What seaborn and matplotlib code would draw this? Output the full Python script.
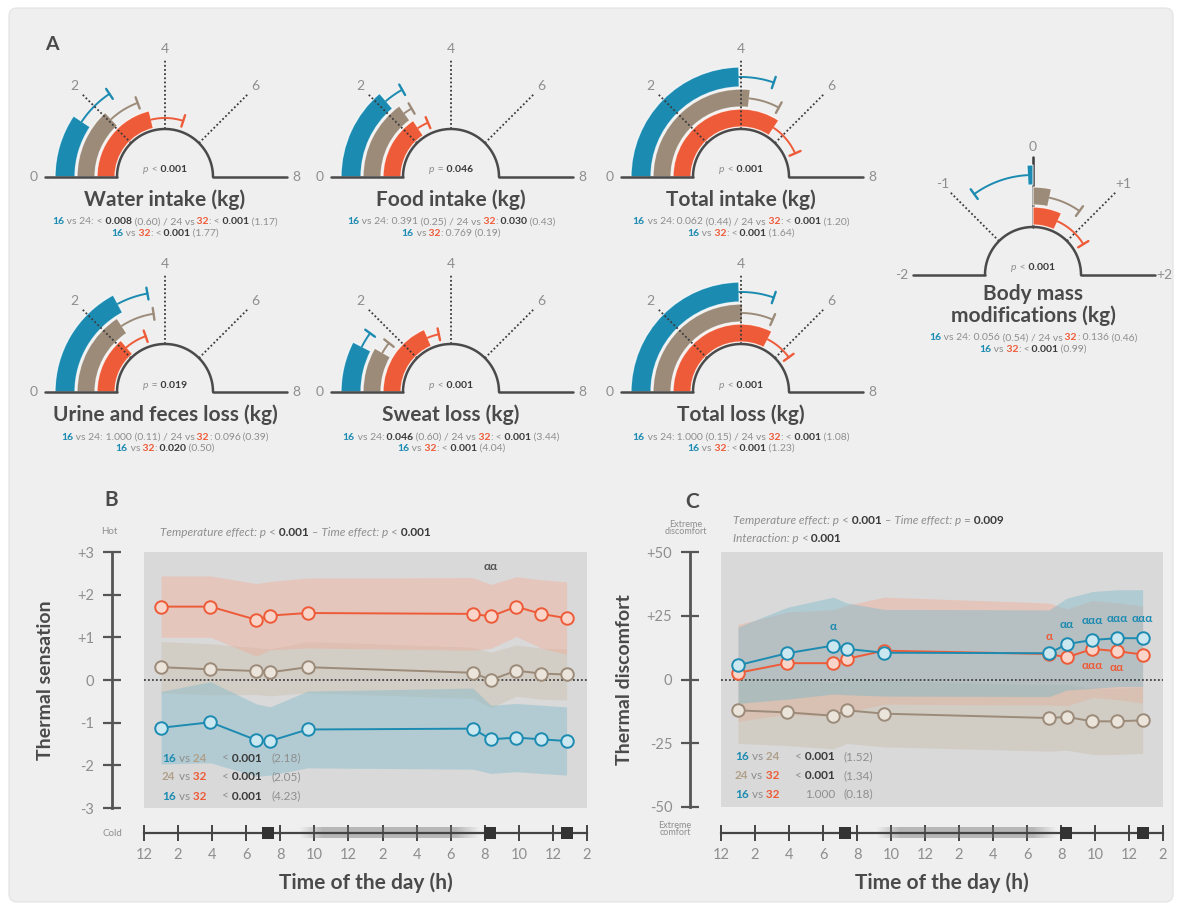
import numpy as np
import pandas as pd
import matplotlib
matplotlib.use("Agg")
import matplotlib.pyplot as plt
import seaborn as sns
from matplotlib.patches import Wedge, FancyBboxPatch
from matplotlib.offsetbox import TextArea, HPacker, AnnotationBbox

# ------------------------------------------------------------------ data
groups = ["16", "24", "32"]

gauge_titles = ["Water intake (kg)", "Food intake (kg)", "Total intake (kg)",
                "Urine and feces loss (kg)", "Sweat loss (kg)", "Total loss (kg)",
                "Body mass\nmodifications (kg)"]
gauge_mean_16 = [1.5, 2.2, 3.95, 2.75, 1.2, 3.95, -0.07]
gauge_sd_16 = [1.0, 0.5, 0.9, 0.8, 0.4, 0.9, 0.73]
gauge_mean_24 = [2.1, 2.4, 4.27, 2.53, 1.33, 4.05, 0.27]
gauge_sd_24 = [1.0, 0.27, 1.0, 1.1, 0.37, 1.0, 0.53]
gauge_mean_32 = [3.4, 2.5, 5.5, 2.2, 2.97, 5.2, 0.55]
gauge_sd_32 = [1.4, 0.48, 1.45, 0.95, 0.5, 1.2, 0.75]
gauge_ranges = [(0, 8)] * 6 + [(-2, 2)]
gauge_ticks = [[0, 2, 4, 6, 8]] * 6 + [[-2, -1, 0, 1, 2]]
gauge_tick_labels = [["0", "2", "4", "6", "8"]] * 6 + [["-2", "-1", "0", "+1", "+2"]]
gauge_p_global = ["< 0.001", "= 0.046", "< 0.001", "= 0.019", "< 0.001", "< 0.001", "< 0.001"]
p_16_24 = ["< 0.008", "0.391", "0.062", "1.000", "0.046", "1.000", "0.056"]
es_16_24 = ["0.60", "0.25", "0.44", "0.11", "0.60", "0.15", "0.54"]
p_24_32 = ["< 0.001", "0.030", "< 0.001", "0.096", "< 0.001", "< 0.001", "0.136"]
es_24_32 = ["1.17", "0.43", "1.20", "0.39", "3.44", "1.08", "0.46"]
p_16_32 = ["< 0.001", "0.769", "< 0.001", "0.020", "< 0.001", "< 0.001", "< 0.001"]
es_16_32 = ["1.77", "0.19", "1.64", "0.50", "4.04", "1.23", "0.99"]

hours = [1.0, 3.9, 6.6, 7.4, 9.6, 19.3, 20.35, 21.85, 23.3, 24.8]
sens_16 = [-1.12, -0.99, -1.41, -1.43, -1.16, -1.14, -1.39, -1.35, -1.39, -1.43]
sens_24 = [0.30, 0.25, 0.21, 0.18, 0.30, 0.17, 0.0, 0.22, 0.15, 0.13]
sens_32 = [1.72, 1.72, 1.41, 1.51, 1.57, 1.55, 1.49, 1.72, 1.55, 1.45]
sens_sd_16 = [0.85, 0.95, 0.85, 0.8, 0.9, 0.95, 0.8, 0.8, 0.8, 0.8]
sens_sd_24 = [0.6, 0.6, 0.55, 0.55, 0.6, 0.6, 0.65, 0.6, 0.6, 0.6]
sens_sd_32 = [0.72, 0.72, 0.85, 0.8, 0.82, 0.85, 0.75, 0.7, 0.8, 0.85]

disc_16 = [5.6, 10.3, 13.3, 12.0, 10.5, 10.3, 13.9, 15.5, 16.2, 16.2]
disc_24 = [-12.1, -12.9, -14.2, -12.1, -13.4, -15.1, -14.7, -16.4, -16.4, -16.0]
disc_32 = [2.6, 6.4, 6.4, 8.1, 11.3, 10.0, 8.7, 12.0, 11.1, 9.8]
disc_sd_16 = [15, 18, 19, 18, 17, 17, 18, 19, 19, 19]
disc_sd_24 = [13, 13, 13, 13, 13, 13, 13, 13, 13, 13]
disc_sd_32 = [19, 20, 21, 21, 21, 20, 19, 19, 19, 19]

time_ticks = list(range(0, 27, 2))
time_tick_labels = ["12", "2", "4", "6", "8", "10", "12", "2", "4", "6", "8", "10", "12", "2"]
event_times = [7.3, 20.3, 24.8]
light_period = [9.8, 19.0]

sens_ticks = [-3, -2, -1, 0, 1, 2, 3]
sens_tick_labels = ["-3", "-2", "-1", "0", "+1", "+2", "+3"]
disc_ticks = [-50, -25, 0, 25, 50]
disc_tick_labels = ["-50", "-25", "0", "+25", "+50"]

sens_stats_pairs = [("16", "24"), ("24", "32"), ("16", "32")]
sens_stats_p = ["< 0.001", "< 0.001", "< 0.001"]
sens_stats_es = ["2.18", "2.05", "4.23"]
disc_stats_p = ["< 0.001", "< 0.001", "1.000"]
disc_stats_es = ["1.52", "1.34", "0.18"]

sig_B_32_hours = [20.35]
sig_B_32_text = ["αα"]
sig_C_16_hours = [6.6, 20.35, 21.85, 23.3, 24.8]
sig_C_16_text = ["α", "αα", "ααα", "ααα", "ααα"]
sig_C_32_above_hours = [19.3]
sig_C_32_above_text = ["α"]
sig_C_32_below_hours = [21.85, 23.3]
sig_C_32_below_text = ["ααα", "αα"]

# ------------------------------------------------------------------ style
sns.set_theme(style="white")
plt.rcParams["font.family"] = ["Lato", "DejaVu Sans"]
plt.rcParams["axes.unicode_minus"] = False

BLUE, TAN, ORANGE = "#1c8bb1", "#9c8b79", "#ee5b38"
DARK, GREY, AXC, TITLEC = "#3a3a3a", "#8e8e8e", "#4f4f4f", "#4a4a4a"
COLORS = {"16": BLUE, "24": TAN, "32": ORANGE}
FACES = {"16": "#cbe8f0", "24": "#ebe4da", "32": "#f9d5c9"}
BANDS = {"16": "#78b8ca", "24": "#c8bba8", "32": "#f5ab95"}
LABELC = {"16": BLUE, "24": "#b0a08a", "32": ORANGE}

W, H = 1182, 910
fig = plt.figure(figsize=(W / 100, H / 100), dpi=100, facecolor="white")
fig.add_artist(FancyBboxPatch((0.09, 0.08), (W - 18) / 100, (H - 16) / 100,
                              boxstyle="round,pad=0,rounding_size=0.08",
                              transform=fig.dpi_scale_trans, facecolor="#efefef",
                              edgecolor="#e2e2e2", lw=0.8, zorder=-10))


def px_rect(l, t, r, b):
    return [l / W, 1 - b / H, (r - l) / W, (b - t) / H]


ov = fig.add_axes([0, 0, 1, 1], zorder=10)
ov.set_xlim(0, W)
ov.set_ylim(H, 0)
ov.axis("off")


def P(t, c=GREY, w="normal", s="normal"):
    return (t, c, w, s)


def rich(x, y, parts, size, ha="center"):
    kids = [TextArea(t, textprops=dict(color=c, fontsize=size, fontweight=w, fontstyle=s))
            for t, c, w, s in parts]
    box = HPacker(children=kids, align="baseline", pad=0, sep=0)
    fx = {"center": 0.5, "left": 0.0, "right": 1.0}[ha]
    ab = AnnotationBbox(box, (x, y), xycoords="data", frameon=False,
                        box_alignment=(fx, 0.5), pad=0, annotation_clip=False)
    ov.add_artist(ab)


def pval_parts(p, lead=" "):
    tok = p.split()
    if len(tok) == 2:
        op, v = tok
        sig = op == "<" or float(v) < 0.05
    else:
        op, v = None, tok[0]
        sig = float(v) < 0.05
    out = []
    if op:
        out.append(P(lead + op))
        lead = " "
    out.append(P(lead + v, DARK if sig else GREY, "bold" if sig else "normal"))
    return out


# ------------------------------------------------------------------ panel A: gauges
gauge_centers = [(165, 177), (451, 177), (741, 177), (165, 392), (451, 392), (741, 392), (1033, 275)]
R0 = 48
RADII = {"32": (50, 68), "24": (70, 88), "16": (90, 110)}
means = {"16": gauge_mean_16, "24": gauge_mean_24, "32": gauge_mean_32}
sds = {"16": gauge_sd_16, "24": gauge_sd_24, "32": gauge_sd_32}

ov.text(52, 45, "A", fontsize=14, fontweight="bold", color=TITLEC, ha="center", va="center")

for i, (cx, cy) in enumerate(gauge_centers):
    ax = fig.add_axes(px_rect(cx - 165, cy - 150, cx + 165, cy + 20))
    ax.set_xlim(-165, 165)
    ax.set_ylim(-20, 150)
    ax.axis("off")
    vmin, vmax = gauge_ranges[i]

    def ang(v, vmin=vmin, vmax=vmax):
        return 180 - (v - vmin) / (vmax - vmin) * 180

    base = vmin if vmin >= 0 else 0
    for g in groups:
        m, sd = means[g][i], sds[g][i]
        r_in, r_out = RADII[g]
        a0, a1 = ang(base), ang(m)
        ax.add_patch(Wedge((0, 0), r_out, min(a0, a1), max(a0, a1), width=r_out - r_in,
                           facecolor=COLORS[g], edgecolor=(1, 1, 1, 0.75), lw=0.9, zorder=2))
        sign = 1 if m >= base else -1
        e = m + sign * sd
        th = np.radians(np.linspace(ang(m), ang(e), 50))
        rm = (r_in + r_out) / 2
        ax.plot(rm * np.cos(th), rm * np.sin(th), color=COLORS[g], lw=1.4, zorder=3)
        te = th[-1]
        ax.plot([(rm - 6) * np.cos(te), (rm + 6) * np.cos(te)],
                [(rm - 6) * np.sin(te), (rm + 6) * np.sin(te)], color=COLORS[g], lw=1.7, zorder=3)

    ticks = gauge_ticks[i]
    labels = gauge_tick_labels[i]
    for t, lab in zip(ticks[1:-1], labels[1:-1]):
        a = np.radians(ang(t))
        solid = vmin < 0 and t == 0
        ax.plot([R0 * np.cos(a), 118 * np.cos(a)], [R0 * np.sin(a), 118 * np.sin(a)],
                color="#3a3a3a", lw=1.8 if solid else 1.3,
                ls="-" if solid else (0, (1, 1.3)), zorder=4 if not solid else 1.5)
        ax.text(128 * np.cos(a), 128 * np.sin(a), lab, ha="center", va="center",
                fontsize=10, color=GREY)
    th = np.linspace(0, np.pi, 120)
    ax.plot(R0 * np.cos(th), R0 * np.sin(th), color="#4a4a4a", lw=1.8, zorder=5)
    ax.plot([-120, -R0], [0, 0], color="#4a4a4a", lw=1.8, zorder=5)
    ax.plot([R0, 122], [0, 0], color="#4a4a4a", lw=1.8, zorder=5)
    ax.text(-131, 0, labels[0], ha="center", va="center", fontsize=10, color=GREY)
    ax.text(131, 0, labels[-1], ha="center", va="center", fontsize=10, color=GREY)

    op, v = gauge_p_global[i].split()
    sig = op == "<" or float(v) < 0.05
    rich(cx, cy - 7, [P("p", GREY, "normal", "italic"), P(" " + op),
                      P(" " + v, DARK if sig else GREY, "bold")], 7.5)

    if "\n" in gauge_titles[i]:
        ov.text(cx, cy + 30, gauge_titles[i], ha="center", va="center", fontsize=15,
                fontweight="bold", color=TITLEC, linespacing=1.1)
        y1 = cy + 63
    else:
        ov.text(cx, cy + 23, gauge_titles[i], ha="center", va="center", fontsize=15,
                fontweight="bold", color=TITLEC)
        y1 = cy + 45
    line1 = ([P("16", BLUE, "bold"), P(" vs 24:")] + pval_parts(p_16_24[i]) +
             [P(f" ({es_16_24[i]}) / 24 vs"), P(" 32", ORANGE, "bold"), P(":")] +
             pval_parts(p_24_32[i]) + [P(f" ({es_24_32[i]})")])
    line2 = ([P("16", BLUE, "bold"), P(" vs"), P(" 32", ORANGE, "bold"), P(":")] +
             pval_parts(p_16_32[i]) + [P(f" ({es_16_32[i]})")])
    rich(cx, y1, line1, 7.5)
    rich(cx, y1 + 11.5, line2, 7.5)


# ------------------------------------------------------------------ panels B & C
def data_panel(left, right, top, bottom, outward_px, series, series_sd, ylim, yticks, yticklabels,
               band_alpha, band_order):
    ax = fig.add_axes(px_rect(left, top, right, bottom))
    ax.set_facecolor("#d9d9d9")
    for s in ["top", "right", "bottom"]:
        ax.spines[s].set_visible(False)
    ax.spines["left"].set_position(("outward", outward_px * 0.72))
    ax.spines["left"].set_color("#555555")
    ax.spines["left"].set_linewidth(2.0)
    for g in band_order:
        m = np.array(series[g])
        sd = np.array(series_sd[g])
        ax.fill_between(hours, m - sd, m + sd, color=BANDS[g], alpha=band_alpha, lw=0, zorder=1)
    ax.axhline(0, color="#3f3f3f", lw=1.3, ls=(0, (1, 1.2)), zorder=2)
    for g in ["24", "32", "16"]:
        df = pd.DataFrame({"hour": hours, "value": series[g]})
        sns.lineplot(data=df, x="hour", y="value", ax=ax, color=COLORS[g], lw=1.4,
                     marker="o", markersize=9, markerfacecolor=FACES[g],
                     markeredgecolor=COLORS[g], markeredgewidth=1.4, errorbar=None, zorder=6)
    ax.set_xlim(0, 26)
    ax.set_ylim(*ylim)
    ax.set_xlabel("")
    ax.set_ylabel("")
    ax.set_xticks([])
    ax.set_yticks(yticks)
    ax.set_yticklabels(yticklabels)
    ax.tick_params(axis="y", left=True, direction="inout", length=13.5, width=1.6,
                   color="#555555", labelsize=10.5, labelcolor=GREY, pad=6)
    ax.grid(False)
    return ax


def time_axis(left, right, y):
    ax = fig.add_axes(px_rect(left, y - 15, right, y + 15))
    ax.patch.set_visible(False)
    for s in ["top", "right", "left"]:
        ax.spines[s].set_visible(False)
    ax.set_xlim(0, 26)
    ax.set_ylim(-1, 1)
    ax.spines["bottom"].set_position(("data", 0))
    ax.spines["bottom"].set_color("#444444")
    ax.spines["bottom"].set_linewidth(1.6)
    xs = np.linspace(light_period[0] - 0.7, light_period[1] + 0.7, 300)
    fade = np.clip(np.minimum(xs - xs[0], xs[-1] - xs) / 1.4, 0, 1) * 0.45
    img = np.zeros((1, len(xs), 4))
    img[..., :3] = 0.45
    img[0, :, 3] = fade
    ax.imshow(img, extent=(xs[0], xs[-1], -0.35, 0.35), aspect="auto", zorder=1,
              interpolation="bilinear")
    ax.scatter(event_times, [0] * len(event_times), marker="s", s=75, color="#333333",
               zorder=5, clip_on=False, linewidths=0)
    ax.set_xlim(0, 26)
    ax.set_ylim(-1, 1)
    ax.set_xticks(time_ticks)
    ax.set_xticklabels(time_tick_labels)
    ax.set_yticks([])
    ax.tick_params(axis="x", bottom=True, direction="inout", length=11, width=1.4,
                   color="#444444", labelsize=10.5, labelcolor=GREY, pad=5)
    ax.grid(False)
    return ax


# Panel B
axB = data_panel(144, 587, 552, 808, 32,
                 {"16": sens_16, "24": sens_24, "32": sens_32},
                 {"16": sens_sd_16, "24": sens_sd_24, "32": sens_sd_32},
                 (-3, 3), sens_ticks, sens_tick_labels, 0.4, ["24", "16", "32"])
time_axis(144, 587, 833)
for h, t in zip(sig_B_32_hours, sig_B_32_text):
    axB.annotate(t, (h, 2.66), ha="center", va="center", fontsize=8.5, fontweight="bold",
                 color="#555555", zorder=8)

ov.text(111, 500, "B", fontsize=15, fontweight="bold", color=TITLEC, ha="center", va="center")
ov.text(109, 532, "Hot", fontsize=7, color=GREY, ha="center", va="center")
ov.text(112, 833, "Cold", fontsize=7, color=GREY, ha="center", va="center")
ov.text(46, 680, "Thermal sensation", rotation=90, fontsize=14, fontweight="bold",
        color=TITLEC, ha="center", va="center")
ov.text(365.5, 883, "Time of the day (h)", fontsize=15, fontweight="bold",
        color=TITLEC, ha="center", va="center")
rich(160, 533, [P("Temperature effect: p", GREY, "normal", "italic"), P(" <"),
                P(" 0.001", DARK, "bold"), P(" – Time effect: p", GREY, "normal", "italic"),
                P(" <"), P(" 0.001", DARK, "bold")], 8.5, ha="left")
for k, ((g1, g2), p, es) in enumerate(zip(sens_stats_pairs, sens_stats_p, sens_stats_es)):
    yy = 758 + k * 19
    rich(162, yy, [P(g1, LABELC[g1], "bold"), P(" vs"), P(" " + g2, LABELC[g2], "bold")], 8.5, ha="left")
    rich(262, yy, pval_parts(p, lead=""), 8.5, ha="right")
    rich(272, yy, [P(f"({es})")], 8.5, ha="left")

# Panel C
axC = data_panel(721, 1163, 552, 807, 31,
                 {"16": disc_16, "24": disc_24, "32": disc_32},
                 {"16": disc_sd_16, "24": disc_sd_24, "32": disc_sd_32},
                 (-50, 50), disc_ticks, disc_tick_labels, 0.42, ["32", "24", "16"])
time_axis(721, 1163, 833)
for h, t in zip(sig_C_16_hours, sig_C_16_text):
    v = disc_16[hours.index(h)]
    axC.annotate(t, (h, v), xytext=(0, 10), textcoords="offset points", ha="center",
                 va="bottom", fontsize=8.5, fontweight="bold", color=BLUE, zorder=8)
for h, t in zip(sig_C_32_above_hours, sig_C_32_above_text):
    v = disc_32[hours.index(h)]
    axC.annotate(t, (h, v), xytext=(0, 9), textcoords="offset points", ha="center",
                 va="bottom", fontsize=8.5, fontweight="bold", color=ORANGE, zorder=8)
for h, t in zip(sig_C_32_below_hours, sig_C_32_below_text):
    v = disc_32[hours.index(h)]
    axC.annotate(t, (h, v), xytext=(0, -8), textcoords="offset points", ha="center",
                 va="top", fontsize=8.5, fontweight="bold", color=ORANGE, zorder=8)

ov.text(692, 502, "C", fontsize=15, fontweight="bold", color=TITLEC, ha="center", va="center")
ov.text(686, 528, "Extreme\ndiscomfort", fontsize=6.5, color=GREY, ha="center", va="center",
        linespacing=0.85)
ov.text(675, 829, "Extreme\ncomfort", fontsize=6.5, color=GREY, ha="center", va="center",
        linespacing=0.85)
ov.text(625, 680, "Thermal discomfort", rotation=90, fontsize=14, fontweight="bold",
        color=TITLEC, ha="center", va="center")
ov.text(942, 883, "Time of the day (h)", fontsize=15, fontweight="bold",
        color=TITLEC, ha="center", va="center")
rich(733, 520, [P("Temperature effect: p", GREY, "normal", "italic"), P(" <"),
                P(" 0.001", DARK, "bold"), P(" – Time effect: p", GREY, "normal", "italic"),
                P(" ="), P(" 0.009", DARK, "bold")], 8.5, ha="left")
rich(733, 538, [P("Interaction: p", GREY, "normal", "italic"), P(" <"),
                P(" 0.001", DARK, "bold")], 8.5, ha="left")
for k, ((g1, g2), p, es) in enumerate(zip(sens_stats_pairs, disc_stats_p, disc_stats_es)):
    yy = 757 + k * 18.5
    rich(735, yy, [P(g1, LABELC[g1], "bold"), P(" vs"), P(" " + g2, LABELC[g2], "bold")], 8.5, ha="left")
    rich(835, yy, pval_parts(p, lead=""), 8.5, ha="right")
    rich(844, yy, [P(f"({es})")], 8.5, ha="left")

fig.savefig("out.png", dpi=100, facecolor="white")
